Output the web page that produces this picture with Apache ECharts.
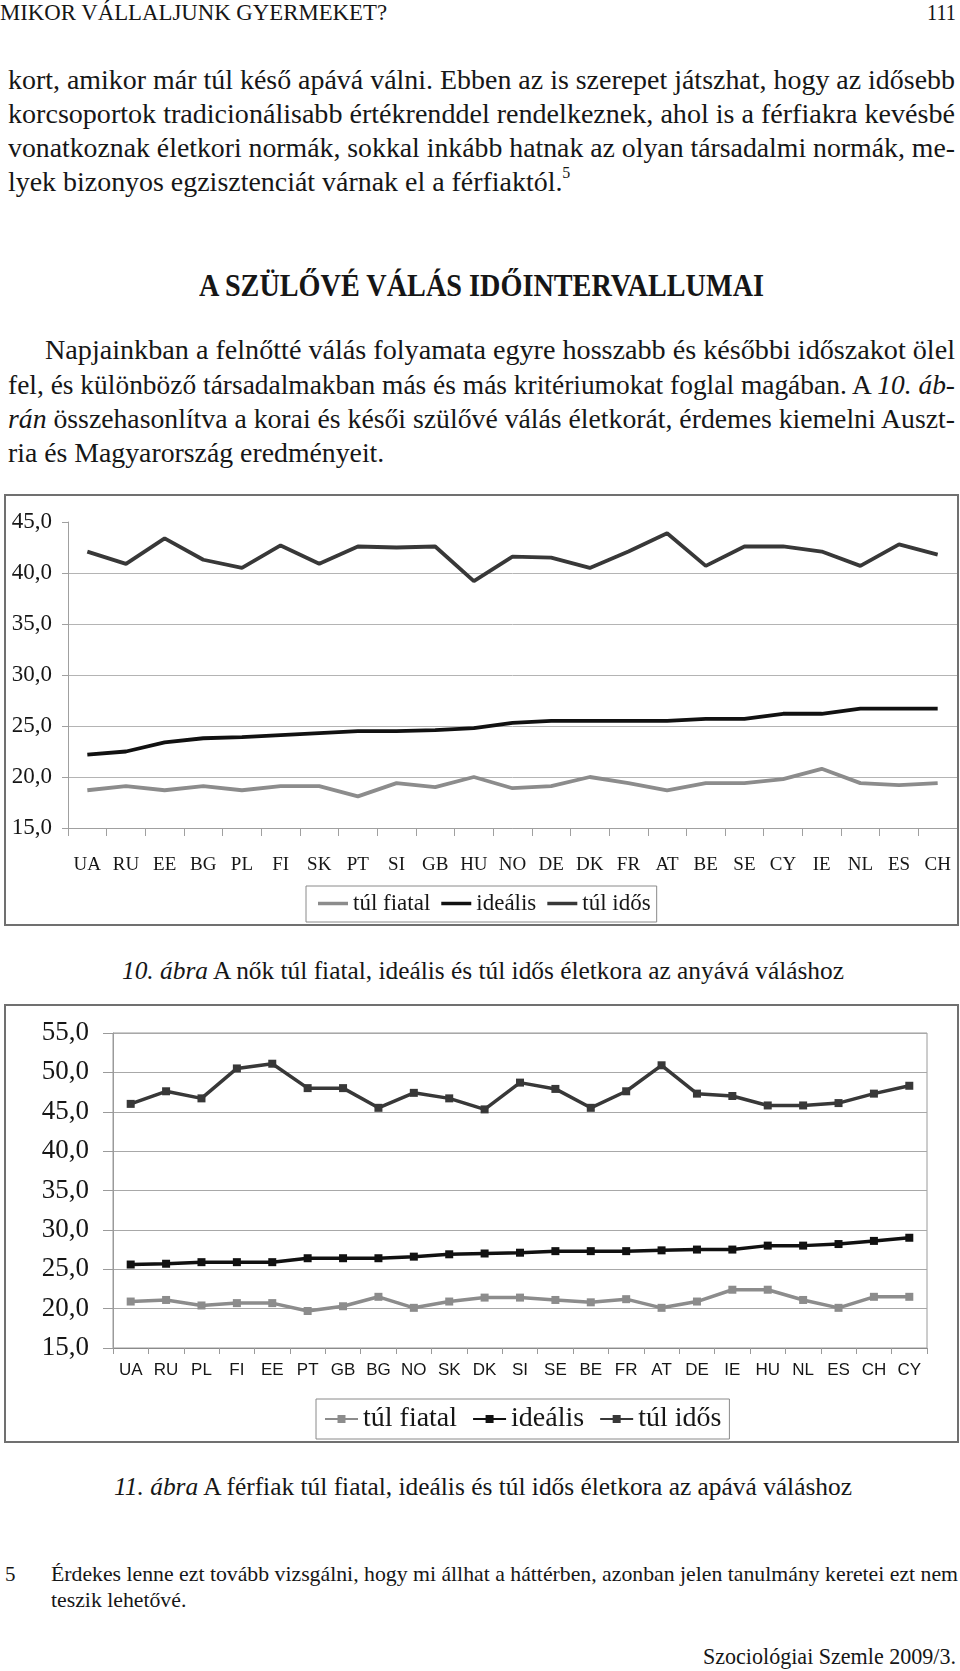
<!DOCTYPE html>
<html>
<head>
<meta charset="utf-8">
<script src="https://cdn.jsdelivr.net/npm/echarts@6/dist/echarts.min.js"></script>
<style>
  html, body { margin: 0; padding: 0; background: #fff; }
  body { width: 960px; height: 1671px; position: relative; overflow: hidden; font-family: 'Liberation Serif', serif; color: #161616; }
  .fit { position: absolute; white-space: nowrap; display: inline-block; transform-origin: 0 50%; }
  .chartbox { position: absolute; border: 2px solid #707070; box-sizing: border-box; }
  sup { font-size: 16px; line-height: 0; position: relative; top: -3px; }
</style>
</head>
<body>
<div class="fit" data-w="387" style="left:0;top:1px;font-size:23px;line-height:24px;">MIKOR VÁLLALJUNK GYERMEKET?</div>
<div class="fit" data-w="29" style="left:927px;top:1px;font-size:23px;line-height:24px;">111</div>

<div class="fit" data-g="p1" data-w="947" style="left:8px;top:63px;font-size:28px;line-height:34px;">kort, amikor már túl késő apává válni. Ebben az is szerepet játszhat, hogy az idősebb</div>
<div class="fit" data-g="p1" data-w="947" style="left:8px;top:97px;font-size:28px;line-height:34px;">korcsoportok tradicionálisabb értékrenddel rendelkeznek, ahol is a férfiakra kevésbé</div>
<div class="fit" data-g="p1" data-w="947" style="left:8px;top:131px;font-size:28px;line-height:34px;">vonatkoznak életkori normák, sokkal inkább hatnak az olyan társadalmi normák, me-</div>
<div class="fit" data-use="p1" style="left:8px;top:165px;font-size:28px;line-height:34px;">lyek bizonyos egzisztenciát várnak el a férfiaktól.<sup>5</sup></div>

<div class="fit" data-w="565" style="left:199px;top:268px;font-size:31px;font-weight:bold;line-height:36px;">A SZÜLŐVÉ VÁLÁS IDŐINTERVALLUMAI</div>

<div class="fit" data-g="p2" data-w="910" style="left:45px;top:333px;font-size:28px;line-height:34px;">Napjainkban a felnőtté válás folyamata egyre hosszabb és későbbi időszakot ölel</div>
<div class="fit" data-g="p2" data-w="947" style="left:8px;top:368px;font-size:28px;line-height:34px;">fel, és különböző társadalmakban más és más kritériumokat foglal magában. A <i>10. áb-</i></div>
<div class="fit" data-g="p2" data-w="947" style="left:8px;top:402px;font-size:28px;line-height:34px;"><i>rán</i> összehasonlítva a korai és késői szülővé válás életkorát, érdemes kiemelni Auszt-</div>
<div class="fit" data-use="p2" style="left:8px;top:436px;font-size:28px;line-height:34px;">ria és Magyarország eredményeit.</div>

<div id="c1" class="chartbox" style="left:4px;top:494px;width:955px;height:432px;"></div>

<div class="fit" data-w="722" style="left:122px;top:955px;font-size:25px;line-height:32px;"><i>10. ábra</i> A nők túl fiatal, ideális és túl idős életkora az anyává váláshoz</div>

<div id="c2" class="chartbox" style="left:4px;top:1004px;width:955px;height:439px;"></div>

<div class="fit" data-w="738" style="left:114px;top:1471px;font-size:25px;line-height:32px;"><i>11. ábra</i> A férfiak túl fiatal, ideális és túl idős életkora az apává váláshoz</div>

<div class="fit" style="left:5px;top:1561px;font-size:21px;line-height:26px;">5</div>
<div class="fit" data-g="fn" data-w="907" style="left:51px;top:1561px;font-size:22px;line-height:26px;">Érdekes lenne ezt tovább vizsgálni, hogy mi állhat a háttérben, azonban jelen tanulmány keretei ezt nem</div>
<div class="fit" data-use="fn" style="left:51px;top:1587px;font-size:22px;line-height:26px;">teszik lehetővé.</div>

<div class="fit" data-w="253" style="left:703px;top:1642px;font-size:24px;line-height:28px;">Szociológiai Szemle 2009/3.</div>

<script>
// ---- Data: 10. ábra (nők) ----
const categories1 = ['UA','RU','EE','BG','PL','FI','SK','PT','SI','GB','HU','NO','DE','DK','FR','AT','BE','SE','CY','IE','NL','ES','CH'];
const tulFiatal1 = [18.7,19.1,18.7,19.1,18.7,19.1,19.1,18.1,19.4,19.0,20.0,18.9,19.1,20.0,19.4,18.7,19.4,19.4,19.8,20.8,19.4,19.2,19.4];
const idealis1   = [22.2,22.5,23.4,23.8,23.9,24.1,24.3,24.5,24.5,24.6,24.8,25.3,25.5,25.5,25.5,25.5,25.7,25.7,26.2,26.2,26.7,26.7,26.7];
const tulIdos1   = [42.1,40.9,43.4,41.3,40.5,42.7,40.9,42.6,42.5,42.6,39.2,41.6,41.5,40.5,42.1,43.9,40.7,42.6,42.6,42.1,40.7,42.8,41.8];

// ---- Data: 11. ábra (férfiak) ----
const categories2 = ['UA','RU','PL','FI','EE','PT','GB','BG','NO','SK','DK','SI','SE','BE','FR','AT','DE','IE','HU','NL','ES','CH','CY'];
const tulFiatal2 = [20.9,21.1,20.4,20.7,20.7,19.7,20.3,21.5,20.1,20.9,21.4,21.4,21.1,20.8,21.2,20.1,20.9,22.4,22.4,21.1,20.1,21.5,21.5];
const idealis2   = [25.6,25.7,25.9,25.9,25.9,26.4,26.4,26.4,26.6,26.9,27.0,27.1,27.3,27.3,27.3,27.4,27.5,27.5,28.0,28.0,28.2,28.6,29.0];
const tulIdos2   = [46.0,47.6,46.7,50.5,51.1,48.0,48.0,45.5,47.4,46.7,45.3,48.7,47.9,45.5,47.6,50.9,47.3,47.0,45.8,45.8,46.1,47.3,48.3];

const seriesNames = ['túl fiatal', 'ideális', 'túl idős'];
const yMin = 15, yStep = 5, yMax1 = 45, yMax2 = 55;

// ---- text fitting (condensed typesetting of the scanned page) ----
(function fitText() {
  const groups = {};
  document.querySelectorAll('.fit[data-w]').forEach(el => {
    const w = el.getBoundingClientRect().width;
    const s = parseFloat(el.dataset.w) / w;
    el.style.transform = 'scaleX(' + s + ')';
    const g = el.dataset.g;
    if (g) { (groups[g] = groups[g] || []).push(s); }
  });
  document.querySelectorAll('.fit[data-use]').forEach(el => {
    const arr = groups[el.dataset.use] || [1];
    const s = arr.reduce((a, b) => a + b, 0) / arr.length;
    el.style.transform = 'scaleX(' + s + ')';
  });
})();

const fmt = v => v.toFixed(1).replace('.', ',');
const cols = ['#8c8c8c', '#111111', '#383838'];

// ---- Chart 1 ----
const ch1 = echarts.init(document.getElementById('c1'));
ch1.setOption({
  animation: false,
  grid: { left: 62, right: 0, top: 26, bottom: 96, containLabel: false },
  legend: {
    data: seriesNames,
    left: 300, top: 390,
    padding: [6, 6, 7, 12],
    icon: 'rect',
    itemWidth: 30, itemHeight: 3.5, itemGap: 11,
    borderColor: '#8a8a8a', borderWidth: 1,
    textStyle: { fontFamily: 'Liberation Serif', fontSize: 23, color: '#161616' }
  },
  xAxis: {
    type: 'category', data: categories1, boundaryGap: true,
    axisLine: { lineStyle: { color: '#a0a0a0', width: 1 } },
    axisTick: { show: true, length: 8, lineStyle: { color: '#a0a0a0' } },
    axisLabel: { interval: 0, margin: 28, fontFamily: 'Liberation Serif', fontSize: 19, color: '#161616' }
  },
  yAxis: {
    type: 'value', min: yMin, max: yMax1, interval: yStep,
    axisLine: { show: true, lineStyle: { color: '#a0a0a0', width: 1 } },
    axisTick: { show: true, length: 6, lineStyle: { color: '#a0a0a0' } },
    axisLabel: { formatter: fmt, margin: 16, fontFamily: 'Liberation Serif', fontSize: 23, color: '#161616' },
    splitLine: { show: true, showMaxLine: false, lineStyle: { color: '#b4b4b4', width: 1 } }
  },
  series: [
    { name: seriesNames[0], type: 'line', data: tulFiatal1, symbol: 'none', lineStyle: { color: cols[0], width: 3.8 }, itemStyle: { color: cols[0] } },
    { name: seriesNames[1], type: 'line', data: idealis1, symbol: 'none', lineStyle: { color: cols[1], width: 3.8 }, itemStyle: { color: cols[1] } },
    { name: seriesNames[2], type: 'line', data: tulIdos1, symbol: 'none', lineStyle: { color: cols[2], width: 3.8 }, itemStyle: { color: cols[2] } }
  ]
});

// ---- Chart 2 ----
const ch2 = echarts.init(document.getElementById('c2'));
ch2.setOption({
  animation: false,
  grid: { left: 107, right: 30, top: 27, bottom: 93, show: true, borderColor: '#9a9a9a', borderWidth: 1, containLabel: false },
  legend: {
    data: seriesNames,
    left: 310, top: 393,
    padding: [6, 8, 6, 8],
    itemWidth: 33, itemHeight: 10, itemGap: 15,
    borderColor: '#8a8a8a', borderWidth: 1,
    textStyle: { fontFamily: 'Liberation Serif', fontSize: 28, color: '#161616' }
  },
  xAxis: {
    type: 'category', data: categories2, boundaryGap: true,
    axisLine: { lineStyle: { color: '#8a8a8a', width: 1 } },
    axisTick: { show: true, length: 6, lineStyle: { color: '#9a9a9a' } },
    axisLabel: { interval: 0, margin: 14, fontFamily: 'Liberation Sans', fontSize: 17, color: '#161616' }
  },
  yAxis: {
    type: 'value', min: yMin, max: yMax2, interval: yStep,
    axisLine: { show: true, lineStyle: { color: '#9a9a9a', width: 1 } },
    axisTick: { show: true, length: 10, lineStyle: { color: '#9a9a9a' } },
    axisLabel: { formatter: fmt, margin: 24, fontFamily: 'Liberation Serif', fontSize: 27, color: '#161616' },
    splitLine: { show: true, lineStyle: { color: '#a8a8a8', width: 1 } }
  },
  series: [
    { name: seriesNames[0], type: 'line', data: tulFiatal2, symbol: 'rect', symbolSize: 8, lineStyle: { color: cols[0], width: 3.5 }, itemStyle: { color: cols[0] } },
    { name: seriesNames[1], type: 'line', data: idealis2, symbol: 'rect', symbolSize: 8, lineStyle: { color: cols[1], width: 3.5 }, itemStyle: { color: cols[1] } },
    { name: seriesNames[2], type: 'line', data: tulIdos2, symbol: 'rect', symbolSize: 8, lineStyle: { color: cols[2], width: 3.5 }, itemStyle: { color: cols[2] } }
  ]
});
</script>
</body>
</html>
